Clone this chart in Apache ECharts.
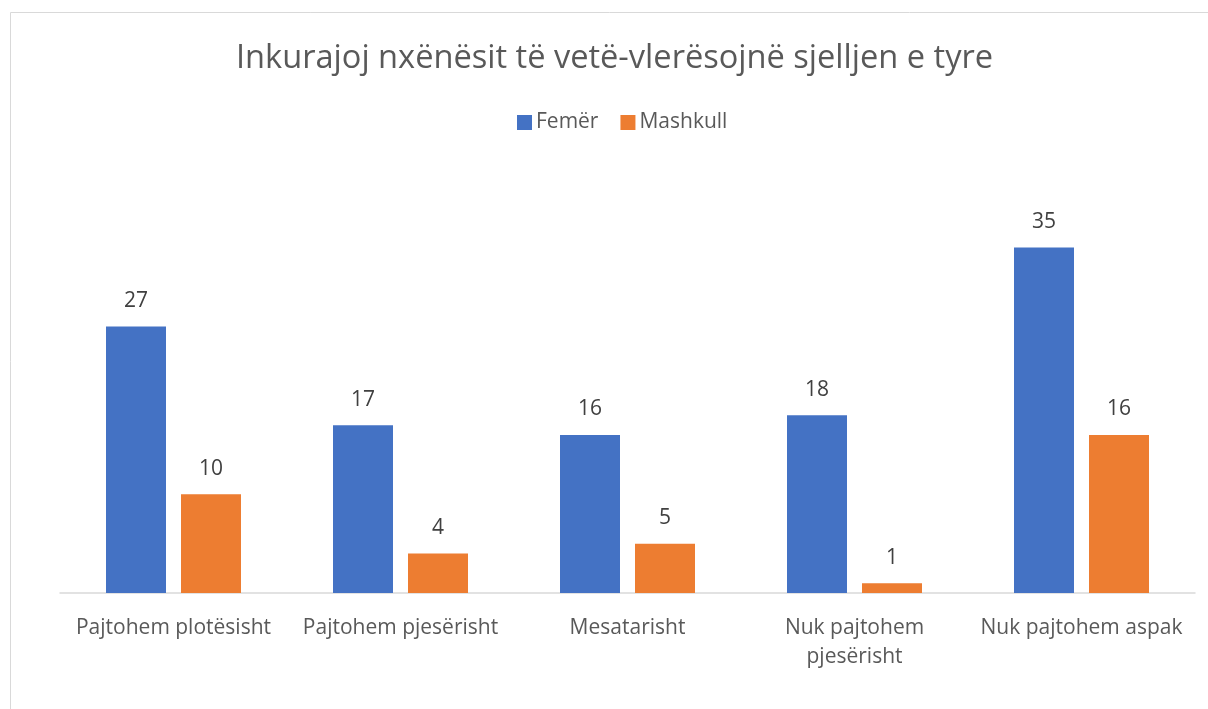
<!DOCTYPE html>
<html>
<head>
<meta charset="utf-8">
<script src="https://cdn.jsdelivr.net/npm/echarts@6/dist/echarts.min.js"></script>
<style>
html,body{margin:0;padding:0;background:#fff;}
#chartmain{width:1208px;height:709px;}
</style>
</head>
<body>
<div id="chartmain"></div>
<script>
var categories=['Pajtohem plotësisht','Pajtohem pjesërisht','Mesatarisht','Nuk pajtohem pjesërisht','Nuk pajtohem aspak'];
var femer=[27,17,16,18,35];
var mashkull=[10,4,5,1,16];

var font='"Open Sans", "Noto Sans", sans-serif';
var myChart=echarts.init(document.getElementById("chartmain"));
var option={
	textStyle:{fontFamily:font},
	title:{
		text:'Inkurajoj nxënësit të vetë-vlerësojnë sjelljen e tyre',
		left:231,top:37,
		textStyle:{fontFamily:font,fontSize:32.6,fontWeight:'normal',color:'#595959'}
	},
	legend:{
		top:107,left:512,
		itemWidth:15,itemHeight:15,itemGap:22,
		icon:'rect',
		textStyle:{fontFamily:font,fontSize:21,color:'#595959',padding:[0,0,0,-1]},
		data:['Femër','Mashkull']
	},
	graphic:[{
		type:'rect',
		shape:{x:10.5,y:12.5,width:1400,height:900},
		style:{fill:'none',stroke:'#d9d9d9',lineWidth:1},
		silent:true
	}],
	grid:{left:60,right:13,top:198,bottom:116},
	xAxis:{
		type:'category',
		data:categories,
		axisLine:{lineStyle:{color:'#d9d9d9',width:1.5}},
		axisTick:{show:false},
		axisLabel:{
			interval:0,margin:21,
			fontFamily:font,fontSize:21,color:'#595959',lineHeight:29,
			formatter:function(value){
				if(value.length>20){
					var parts=value.split(' ');
					return parts.slice(0,2).join(' ')+'\n'+parts.slice(2).join(' ');
				}
				return value;
			}
		}
	},
	yAxis:{type:'value',min:0,max:40,show:false,splitLine:{show:false}},
	series:[{
		name:'Femër',type:'bar',data:femer,
		barWidth:60,barGap:'25%',
		itemStyle:{color:'#4472c4'},
		label:{show:true,position:'top',distance:15,fontFamily:font,fontSize:21,color:'#404040'}
	},{
		name:'Mashkull',type:'bar',data:mashkull,
		barWidth:60,
		itemStyle:{color:'#ed7d31'},
		label:{show:true,position:'top',distance:15,fontFamily:font,fontSize:21,color:'#404040'}
	}]
};
myChart.setOption(option);
</script>
</body>
</html>
